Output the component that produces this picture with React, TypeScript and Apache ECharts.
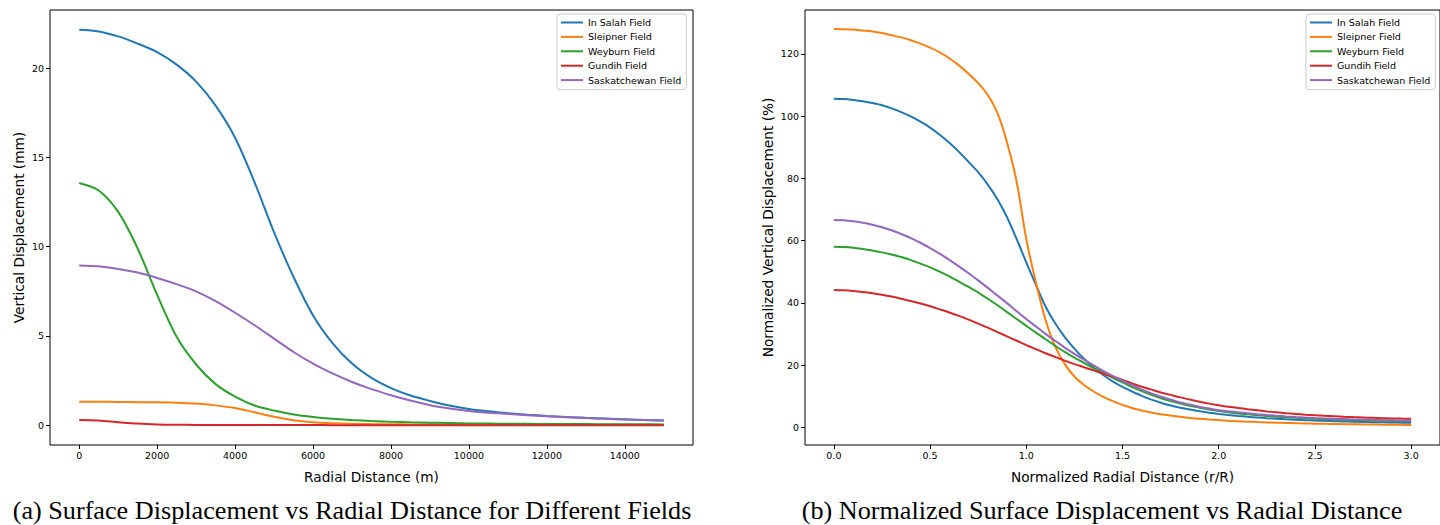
import React, { useEffect, useRef } from "react";
import * as echarts from "echarts";

const FIELD_NAMES = ["In Salah Field", "Sleipner Field", "Weyburn Field", "Gundih Field", "Saskatchewan Field"];
const FIELD_COLORS = ["#1f77b4", "#ff7f0e", "#2ca02c", "#d62728", "#9467bd"];

// (a) radial distance in metres
const radialDistanceM = [
  0, 500, 1000, 1500, 2000, 2500, 3000, 3500, 4000, 4500, 5000, 5500, 6000, 6500, 7000, 7500,
  8000, 8500, 9000, 9500, 10000, 10500, 11000, 11500, 12000, 12500, 13000, 13500, 14000, 14500, 15000,
];
const inSalahMm = [22.15, 22.06, 21.78, 21.38, 20.9, 20.2, 19.25, 17.9, 16.1, 13.6, 10.8, 8.3, 6.15, 4.6, 3.45, 2.65, 2.08, 1.66, 1.36, 1.1, 0.91, 0.78, 0.67, 0.59, 0.52, 0.46, 0.41, 0.37, 0.33, 0.29, 0.26];
const sleipnerMm = [1.31, 1.31, 1.3, 1.29, 1.28, 1.26, 1.21, 1.11, 0.96, 0.72, 0.47, 0.28, 0.17, 0.11, 0.08, 0.06, 0.05, 0.045, 0.04, 0.035, 0.03, 0.03, 0.025, 0.025, 0.02, 0.02, 0.02, 0.02, 0.015, 0.015, 0.015];
const weyburnMm = [13.57, 13.15, 11.95, 9.9, 7.3, 4.95, 3.4, 2.3, 1.6, 1.1, 0.82, 0.6, 0.46, 0.36, 0.29, 0.23, 0.19, 0.16, 0.14, 0.12, 0.1, 0.09, 0.08, 0.075, 0.07, 0.065, 0.06, 0.055, 0.05, 0.05, 0.045];
const gundihMm = [0.29, 0.26, 0.17, 0.09, 0.045, 0.025, 0.015, 0.01, 0.008, 0.006, 0.005, 0.004, 0.004, 0.003, 0.003, 0.003, 0.002, 0.002, 0.002, 0.002, 0.002, 0.001, 0.001, 0.001, 0.001, 0.001, 0.001, 0.001, 0.001, 0.001, 0.001];
const saskatchewanMm = [8.95, 8.9, 8.75, 8.55, 8.25, 7.9, 7.5, 6.95, 6.3, 5.6, 4.85, 4.1, 3.45, 2.9, 2.42, 2.02, 1.68, 1.38, 1.12, 0.94, 0.8, 0.7, 0.63, 0.56, 0.5, 0.45, 0.4, 0.36, 0.32, 0.29, 0.26];

// (b) normalized radial distance r/R
const normRadial = [
  0, 0.05, 0.1, 0.15, 0.2, 0.25, 0.3, 0.35, 0.4, 0.45, 0.5, 0.55, 0.6, 0.65, 0.7, 0.75, 0.8, 0.85, 0.9, 0.95,
  1.0, 1.05, 1.1, 1.15, 1.2, 1.25, 1.3, 1.35, 1.4, 1.45, 1.5, 1.55, 1.6, 1.65, 1.7, 1.75, 1.8, 1.85, 1.9, 1.95,
  2.0, 2.05, 2.1, 2.15, 2.2, 2.25, 2.3, 2.35, 2.4, 2.45, 2.5, 2.55, 2.6, 2.65, 2.7, 2.75, 2.8, 2.85, 2.9, 2.95, 3.0,
];
const inSalahPct = [105.6, 105.5, 105.2, 104.8, 104.2, 103.5, 102.5, 101.3, 99.9, 98.2, 96.3, 94.0, 91.4, 88.5, 85.3, 82.0, 78.0, 73.3, 67.5, 60.5,
  53.0, 45.8, 38.8, 33.4, 29.0, 25.3, 22.0, 19.2, 16.8, 14.7, 13.0, 11.5, 10.1, 8.9, 7.9, 7.0, 6.3, 5.7, 5.15, 4.7,
  4.3, 3.95, 3.65, 3.38, 3.14, 2.93, 2.74, 2.57, 2.42, 2.29, 2.17, 2.06, 1.96, 1.87, 1.79, 1.71, 1.64, 1.58, 1.52, 1.47, 1.42];
const sleipnerPct = [128.0, 127.95, 127.8, 127.5, 127.2, 126.7, 126.0, 125.3, 124.4, 123.3, 122.0, 120.5, 118.6, 116.3, 113.6, 110.6, 106.8, 101.0, 91.5, 78.9,
  60.5, 46.5, 34.5, 26.0, 20.3, 16.3, 13.6, 11.5, 9.8, 8.4, 7.2, 6.2, 5.4, 4.75, 4.2, 3.75, 3.35, 3.0, 2.75, 2.5,
  2.3, 2.1, 1.95, 1.8, 1.68, 1.57, 1.47, 1.38, 1.3, 1.23, 1.16, 1.1, 1.04, 0.99, 0.95, 0.91, 0.87, 0.84, 0.81, 0.78, 0.75];
const weyburnPct = [58.0, 57.9, 57.7, 57.3, 56.8, 56.2, 55.5, 54.7, 53.7, 52.6, 51.4, 50.0, 48.5, 46.8, 45.1, 43.3, 41.3, 39.2, 37.0, 34.8,
  32.6, 30.4, 28.3, 26.2, 24.2, 22.4, 20.7, 19.0, 17.5, 15.9, 14.4, 12.9, 11.6, 10.4, 9.3, 8.4, 7.6, 6.9, 6.3, 5.7,
  5.2, 4.8, 4.45, 4.15, 3.88, 3.63, 3.4, 3.2, 3.02, 2.86, 2.72, 2.6, 2.49, 2.39, 2.3, 2.22, 2.15, 2.09, 2.04, 1.99, 1.95];
const gundihPct = [44.1, 44.0, 43.8, 43.5, 43.1, 42.6, 42.0, 41.3, 40.6, 39.8, 38.9, 37.9, 36.9, 35.8, 34.6, 33.3, 32.0, 30.6, 29.2, 27.8,
  26.4, 25.1, 23.8, 22.6, 21.4, 20.3, 19.3, 18.3, 17.2, 16.2, 15.2, 14.1, 13.0, 12.1, 11.2, 10.4, 9.6, 8.9, 8.2, 7.6,
  7.1, 6.6, 6.2, 5.8, 5.45, 5.1, 4.8, 4.52, 4.28, 4.06, 3.88, 3.7, 3.54, 3.39, 3.26, 3.14, 3.03, 2.93, 2.85, 2.78, 2.72];
const saskatchewanPct = [66.6, 66.5, 66.2, 65.7, 65.1, 64.3, 63.3, 62.1, 60.8, 59.3, 57.6, 55.8, 53.8, 51.7, 49.5, 47.2, 44.8, 42.3, 39.9, 37.3,
  34.8, 32.4, 30.0, 27.8, 25.6, 23.6, 21.7, 19.9, 18.1, 16.5, 14.9, 13.5, 12.1, 10.9, 9.8, 8.9, 8.0, 7.3, 6.6, 6.0,
  5.5, 5.15, 4.8, 4.5, 4.2, 3.95, 3.72, 3.5, 3.3, 3.13, 2.98, 2.85, 2.73, 2.62, 2.52, 2.43, 2.35, 2.28, 2.22, 2.17, 2.12];

const leftXTicks = [0, 2000, 4000, 6000, 8000, 10000, 12000, 14000];
const leftYTicks = [0, 5, 10, 15, 20];
const rightXTicks = [0, 0.5, 1.0, 1.5, 2.0, 2.5, 3.0];
const rightYTicks = [0, 20, 40, 60, 80, 100, 120];

const CAPTION_A = "(a) Surface Displacement vs Radial Distance for Different Fields";
const CAPTION_B = "(b) Normalized Surface Displacement vs Radial Distance";

const SANS = "DejaVu Sans";
const SERIF = "Liberation Serif";

function makeAxis(gridIndex: number, min: number, max: number, ticks: number[], name: string, nameGap: number, isX: boolean, fmt?: (v: number) => string) {
  return {
    type: "value",
    gridIndex,
    min,
    max,
    name,
    nameLocation: "middle",
    nameGap,
    nameTextStyle: { fontSize: 13.7, color: "#000", fontFamily: SANS },
    axisLine: { show: false, onZero: false },
    axisTick: { show: true, inside: false, length: 4, customValues: ticks, lineStyle: { color: "#000", width: 1 } },
    axisLabel: {
      show: true,
      customValues: ticks,
      fontSize: 9.5,
      color: "#000",
      fontFamily: SANS,
      margin: isX ? 5 : 6,
      formatter: fmt ? (v: number) => fmt(v) : (v: number) => String(v),
    },
    splitLine: { show: false },
  };
}

export default function App() {
  const ref = useRef<HTMLDivElement>(null);
  useEffect(() => {
    if (!ref.current) return;
    const chart = echarts.init(ref.current, null, { renderer: "svg" });
    const leftSeries = [inSalahMm, sleipnerMm, weyburnMm, gundihMm, saskatchewanMm];
    const rightSeries = [inSalahPct, sleipnerPct, weyburnPct, gundihPct, saskatchewanPct];
    const series: any[] = [];
    leftSeries.forEach((vals, i) => {
      series.push({
        type: "line",
        name: FIELD_NAMES[i],
        xAxisIndex: 0,
        yAxisIndex: 0,
        data: radialDistanceM.map((x, j) => [x, vals[j]]),
        symbol: "none",
        smooth: 0.3,
        lineStyle: { color: FIELD_COLORS[i], width: 2 },
        itemStyle: { color: FIELD_COLORS[i] },
      });
    });
    rightSeries.forEach((vals, i) => {
      series.push({
        type: "line",
        name: FIELD_NAMES[i],
        xAxisIndex: 1,
        yAxisIndex: 1,
        data: normRadial.map((x, j) => [x, vals[j]]),
        symbol: "none",
        smooth: 0.3,
        lineStyle: { color: FIELD_COLORS[i], width: 2 },
        itemStyle: { color: FIELD_COLORS[i] },
      });
    });
    const legendBase = {
      orient: "vertical",
      top: 14,
      icon: "rect",
      itemWidth: 22,
      itemHeight: 2,
      itemGap: 3.4,
      padding: [3, 5, 4, 4],
      backgroundColor: "rgba(255,255,255,0.8)",
      borderColor: "#cccccc",
      borderWidth: 1,
      borderRadius: 3,
      selectedMode: false,
      textStyle: { fontSize: 9.5, color: "#000", fontFamily: SANS, lineHeight: 11 },
      data: FIELD_NAMES,
    };
    chart.setOption({
      animation: false,
      backgroundColor: "#fff",
      grid: [
        { left: 50, top: 10, width: 643, height: 435, show: true, borderColor: "#000", borderWidth: 1, backgroundColor: "transparent" },
        { left: 805, top: 10, width: 636, height: 435, show: true, borderColor: "#000", borderWidth: 1, backgroundColor: "transparent" },
      ],
      xAxis: [
        makeAxis(0, -750, 15750, leftXTicks, "Radial Distance (m)", 25, true),
        makeAxis(1, -0.15, 3.15, rightXTicks, "Normalized Radial Distance (r/R)", 25, true, (v) => v.toFixed(1)),
      ],
      yAxis: [
        makeAxis(0, -1.11, 23.26, leftYTicks, "Vertical Displacement (mm)", 24, false),
        makeAxis(1, -5.7, 134.1, rightYTicks, "Normalized Vertical Displacement (%)", 30, false),
      ],
      legend: [
        { ...legendBase, left: 557 },
        { ...legendBase, left: 1306 },
      ],
      graphic: [
        { type: "text", x: 352, y: 510, style: { text: CAPTION_A, fontSize: 26.2, fontFamily: SERIF, fill: "#000", align: "center", verticalAlign: "middle" } },
        { type: "text", x: 1102, y: 510, style: { text: CAPTION_B, fontSize: 26.2, fontFamily: SERIF, fill: "#000", align: "center", verticalAlign: "middle" } },
      ],
      series,
    });
    return () => chart.dispose();
  }, []);
  return <div ref={ref} style={{ position: "fixed", left: 0, top: 0, width: 1440, height: 525, background: "#fff" }} />;
}
